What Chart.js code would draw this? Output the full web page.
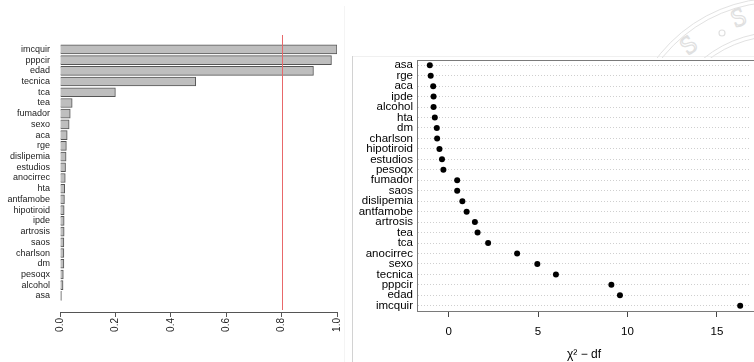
<!DOCTYPE html>
<html>
<head>
    <meta charset="UTF-8">
    <title>Importancia y chi2 - df</title>
    <script src="https://cdn.jsdelivr.net/npm/chart.js"></script>
    <style>
        body {
            margin: 0;
            background: #ffffff;
            font-family: 'Liberation Sans', Arial, sans-serif;
        }

        #wrap {
            position: relative;
            width: 754px;
            height: 362px;
            overflow: hidden;
        }

        canvas {
            position: absolute;
            top: 0;
        }

        #leftChart { left: 0; }
        #rightChart { left: 353px; }

        /* faint seal in the top right corner */
        #seal {
            position: absolute;
            left: 560px;
            top: 0;
            width: 194px;
            height: 58px;
            overflow: hidden;
        }

        .sep {
            position: absolute;
        }
    </style>
</head>
<body>
    <div id="wrap">
        <div class="sep" style="left:344px;top:6px;width:1px;height:356px;background:#f4f4f4;"></div>
        <div class="sep" style="left:352px;top:56px;width:1px;height:306px;background:#d2d2d2;"></div>
        <div class="sep" style="left:353px;top:56px;width:401px;height:1px;background:#f0f0f0;"></div>
        <div id="seal">
            <svg width="194" height="58" viewBox="560 0 194 58">
                <g fill="none" stroke="#e2e2e2" stroke-width="1">
                    <circle cx="778" cy="150" r="152" />
                    <circle cx="778" cy="150" r="148" />
                    <circle cx="778" cy="150" r="118" />
                    <circle cx="778" cy="150" r="114" />
                </g>
                <g fill="none" stroke="#e0e0e0" stroke-width="1.2" font-family="Liberation Serif" font-size="26">
                    <text x="688" y="56" transform="rotate(-38 688 56)">S</text>
                    <circle cx="722" cy="33" r="3" />
                    <text x="735" y="28" transform="rotate(-22 735 28)">S</text>
                </g>
            </svg>
        </div>
        <canvas id="leftChart" width="352" height="362"></canvas>
        <canvas id="rightChart" width="401" height="362"></canvas>
    </div>

    <script>
        // left panel: relative importance
        var impVars = ['imcquir', 'pppcir', 'edad', 'tecnica', 'tca', 'tea', 'fumador', 'sexo', 'aca', 'rge',
            'dislipemia', 'estudios', 'anocirrec', 'hta', 'antfamobe', 'hipotiroid', 'ipde', 'artrosis',
            'saos', 'charlson', 'dm', 'pesoqx', 'alcohol', 'asa'];
        var impValues = [1.0, 0.98, 0.915, 0.49, 0.2, 0.044, 0.037, 0.033, 0.026, 0.023,
            0.022, 0.02, 0.019, 0.017, 0.016, 0.015, 0.015, 0.015,
            0.014, 0.014, 0.014, 0.012, 0.011, 0.005];
        var impTicks = [0, 0.2, 0.4, 0.6, 0.8, 1.0];
        var impCutoff = 0.8;

        // right panel: chi^2 - df
        var chiVars = ['asa', 'rge', 'aca', 'ipde', 'alcohol', 'hta', 'dm', 'charlson', 'hipotiroid', 'estudios',
            'pesoqx', 'fumador', 'saos', 'dislipemia', 'antfamobe', 'artrosis', 'tea', 'tca', 'anocirrec',
            'sexo', 'tecnica', 'pppcir', 'edad', 'imcquir'];
        var chiValues = [-1.05, -1.0, -0.86, -0.84, -0.84, -0.77, -0.66, -0.64, -0.51, -0.37,
            -0.29, 0.48, 0.48, 0.77, 1.01, 1.47, 1.62, 2.21, 3.83,
            4.96, 6.0, 9.1, 9.58, 16.3];
        var chiTicks = [0, 5, 10, 15];

        Chart.defaults.font.family = "'Liberation Sans', Arial, sans-serif";
        Chart.defaults.animation = false;

        var cutoffLine = {
            id: 'cutoffLine',
            afterDatasetsDraw: function (chart) {
                var ctx = chart.ctx;
                var x = Math.round(chart.scales.x.getPixelForValue(impCutoff)) + 0.5;
                ctx.save();
                ctx.strokeStyle = '#e8686a';
                ctx.lineWidth = 1;
                ctx.beginPath();
                ctx.moveTo(x, chart.chartArea.top - 9);
                ctx.lineTo(x, chart.chartArea.bottom - 2);
                ctx.stroke();
                ctx.restore();
            }
        };

        var leftChart = new Chart(document.getElementById('leftChart'), {
            type: 'bar',
            data: {
                datasets: [{
                    data: impValues.map(function (v, i) { return { x: v, y: i }; }),
                    backgroundColor: '#bebebe',
                    borderColor: '#555555',
                    borderWidth: 1,
                    barThickness: 9
                }]
            },
            options: {
                responsive: false,
                indexAxis: 'y',
                layout: { padding: { top: 44, right: 15, left: 0, bottom: 0 } },
                plugins: { legend: { display: false }, tooltip: { enabled: false } },
                scales: {
                    y: {
                        type: 'linear',
                        offset: false,
                        reverse: true,
                        min: -0.5,
                        max: 24.5,
                        afterBuildTicks: function (scale) {
                            scale.ticks = impVars.map(function (_, i) { return { value: i }; });
                        },
                        afterFit: function (scale) { scale.width = 60; },
                        grid: { display: false, drawTicks: false },
                        border: { display: false },
                        ticks: {
                            autoSkip: false,
                            padding: 10,
                            color: '#222',
                            font: { size: 9 },
                            callback: function (v) { return impVars[v]; }
                        }
                    },
                    x: {
                        type: 'linear',
                        min: 0,
                        max: 1,
                        afterBuildTicks: function (scale) {
                            scale.ticks = impTicks.map(function (v) { return { value: v }; });
                        },
                        afterFit: function (scale) { scale.height = 50; },
                        grid: { drawOnChartArea: false, tickLength: 5, color: '#555' },
                        border: { display: true, color: '#555' },
                        ticks: {
                            minRotation: 90,
                            maxRotation: 90,
                            padding: 1,
                            color: '#222',
                            font: { size: 10 },
                            callback: function (v) { return v.toFixed(1); }
                        }
                    }
                }
            },
            plugins: [cutoffLine]
        });

        var plotBox = {
            id: 'plotBox',
            afterDraw: function (chart) {
                var a = chart.chartArea;
                var ctx = chart.ctx;
                ctx.save();
                ctx.strokeStyle = '#7a7a7a';
                ctx.lineWidth = 1;
                ctx.strokeRect(Math.round(a.left) - 0.5, Math.round(a.top) + 0.5,
                    Math.round(a.right - a.left) + 10, Math.round(a.bottom - a.top));
                ctx.restore();
            }
        };

        var rightChart = new Chart(document.getElementById('rightChart'), {
            type: 'line',
            data: {
                labels: chiVars,
                datasets: [{
                    data: chiValues,
                    showLine: false,
                    pointRadius: 3,
                    pointBackgroundColor: '#000',
                    pointBorderColor: '#000',
                    pointBorderWidth: 0
                }]
            },
            options: {
                responsive: false,
                indexAxis: 'y',
                layout: { padding: { top: 60, right: 0, left: 0, bottom: 0 } },
                plugins: { legend: { display: false }, tooltip: { enabled: false } },
                scales: {
                    y: {
                        type: 'category',
                        offset: true,
                        afterFit: function (scale) { scale.width = 65; },
                        grid: { offset: false, drawTicks: false, color: '#cfcfcf' },
                        border: { display: false, dash: [1, 2] },
                        ticks: {
                            autoSkip: false,
                            padding: 5,
                            color: '#000',
                            font: { size: 11.5 }
                        }
                    },
                    x: {
                        type: 'linear',
                        min: -1.71,
                        max: 16.85,
                        afterBuildTicks: function (scale) {
                            scale.ticks = chiTicks.map(function (v) { return { value: v }; });
                        },
                        afterFit: function (scale) { scale.height = 51; },
                        grid: { drawOnChartArea: false, tickLength: 6, color: '#444' },
                        border: { display: false },
                        ticks: {
                            padding: 8,
                            color: '#000',
                            font: { size: 11.5 }
                        },
                        title: {
                            display: true,
                            text: 'χ² − df',
                            color: '#000',
                            font: { size: 12 },
                            padding: { top: 10, bottom: 0 }
                        }
                    }
                }
            },
            plugins: [plotBox]
        });
    </script>
</body>
</html>
